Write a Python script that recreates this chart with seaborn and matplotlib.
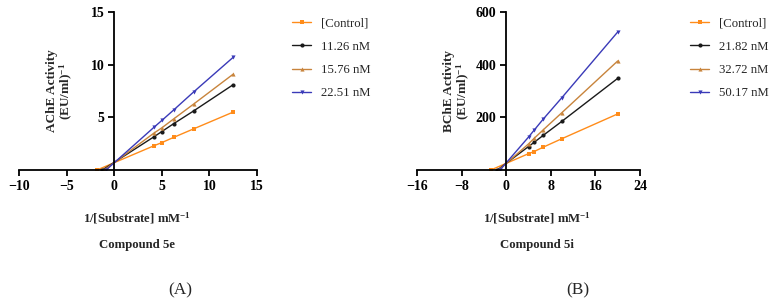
import numpy as np
import pandas as pd
import matplotlib
matplotlib.use("Agg")
import matplotlib.pyplot as plt
import seaborn as sns

# ---- data ----
# panel A: AChE, compound 5e
a_labels = ["[Control]", "11.26 nM", "15.76 nM", "22.51 nM"]
a_x = [4.17, 5.0, 6.25, 8.33, 12.5]
a_intercepts = [-1.8, -1.25, -1.05, -0.85]
a_control = [2.3, 2.6, 3.1, 3.9, 5.5]
a_c1 = [3.15, 3.65, 4.4, 5.6, 8.1]
a_c2 = [3.5, 4.0, 4.85, 6.25, 9.1]
a_c3 = [4.05, 4.7, 5.7, 7.4, 10.7]

# panel B: BChE, compound 5i
b_labels = ["[Control]", "21.82 nM", "32.72 nM", "50.17 nM"]
b_x = [4.0, 5.0, 6.67, 10.0, 20.0]
b_intercepts = [-2.75, -1.6, -1.35, -1.1]
b_control = [62, 70, 87, 119, 213]
b_c1 = [89, 105, 132, 185, 348]
b_c2 = [99, 120, 153, 218, 414]
b_c3 = [125, 151, 194, 275, 524]

colors = ["#FF8C1A", "#1A1A1A", "#C8843C", "#3A3AB8"]
markers = ["s", "o", "^", "v"]


def build_frame(xs, intercepts, series, labels):
    rows = []
    for lab, x0, ys in zip(labels, intercepts, series):
        rows.append((lab, x0, 0.0))
        for x, y in zip(xs, ys):
            rows.append((lab, x, y))
    return pd.DataFrame(rows, columns=["group", "x", "y"])


df_a = build_frame(a_x, a_intercepts, [a_control, a_c1, a_c2, a_c3], a_labels)
df_b = build_frame(b_x, b_intercepts, [b_control, b_c1, b_c2, b_c3], b_labels)

sns.set_style("ticks")
plt.rcParams["font.family"] = ["Liberation Serif", "DejaVu Serif"]
plt.rcParams["mathtext.fontset"] = "custom"
plt.rcParams["mathtext.rm"] = "Liberation Serif:bold"
plt.rcParams["mathtext.default"] = "rm"

fig = plt.figure(figsize=(7.71, 3.02), dpi=100)
W, H = 771.0, 302.0


def panel(rect, df, labels, xlim, xticks, ylim, yticks, ylabel, ylab_x,
          leg_x, xlab_cx, comp, tag, tag_cx):
    ax = fig.add_axes(rect)
    for lab, col, mk in zip(labels, colors, markers):
        sub = df[df["group"] == lab]
        sns.lineplot(data=sub, x="x", y="y", color=col, marker=mk,
                     markersize=3, markeredgewidth=0, linewidth=1.0,
                     estimator=None, sort=True, legend=False, ax=ax, label=lab)
    ax.set_xlim(*xlim)
    ax.set_ylim(*ylim)
    ax.set_xticks(xticks)
    ax.set_yticks(yticks)
    ax.set_xticklabels([f"{t}".replace("-", "\u2212") for t in xticks])
    ax.spines["left"].set_position(("data", 0))
    ax.spines["right"].set_visible(False)
    ax.spines["top"].set_visible(False)
    for s in ("left", "bottom"):
        ax.spines[s].set_linewidth(1.3)
        ax.spines[s].set_color("black")
    ax.tick_params(direction="out", length=4, width=1.3, labelsize=10,
                   colors="black", pad=3)
    for t in ax.get_xticklabels() + ax.get_yticklabels():
        t.set_fontweight("bold")
    ax.set_xlabel("")
    ax.set_ylabel(ylabel, fontsize=9.5, fontweight="bold", linespacing=0.95)
    ax.yaxis.set_label_coords(ylab_x, 0.5)

    fig.text(xlab_cx / W, 1 - 218 / H, "1/[Substrate] mM$^{-1}$",
             ha="center", va="center", fontsize=9.2, fontweight="bold")
    fig.text(xlab_cx / W, 1 - 245 / H, comp, ha="center", va="center",
             fontsize=9.2, fontweight="bold")
    fig.text(tag_cx / W, 1 - 290 / H, tag, ha="center", va="center",
             fontsize=12.5)

    handles = list(ax.get_lines())[:len(labels)]
    fig.legend(handles, labels, loc="upper left",
               bbox_to_anchor=(leg_x / W, 1 - 17 / H),
               bbox_transform=fig.transFigure, frameon=False, fontsize=9.2,
               handlelength=1.5, handletextpad=0.8, labelspacing=0.9,
               borderpad=0, borderaxespad=0, markerscale=1.0)
    return ax


panel([19 / W, 1 - 170 / H, 238 / W, 158 / H], df_a, a_labels,
      (-10, 15), [-10, -5, 0, 5, 10, 15], (0, 15), [5, 10, 15],
      "AChE Activity\n(EU/ml)$^{-1}$", 0.235, 292, 137, "Compound 5e", "(A)", 180)

panel([417 / W, 1 - 170 / H, 223 / W, 158 / H], df_b, b_labels,
      (-16, 24), [-16, -8, 0, 8, 16, 24], (0, 600), [200, 400, 600],
      "BChE Activity\n(EU/ml)$^{-1}$", 0.245, 690, 537, "Compound 5i", "(B)", 578)

fig.savefig("out.png", dpi=100)
